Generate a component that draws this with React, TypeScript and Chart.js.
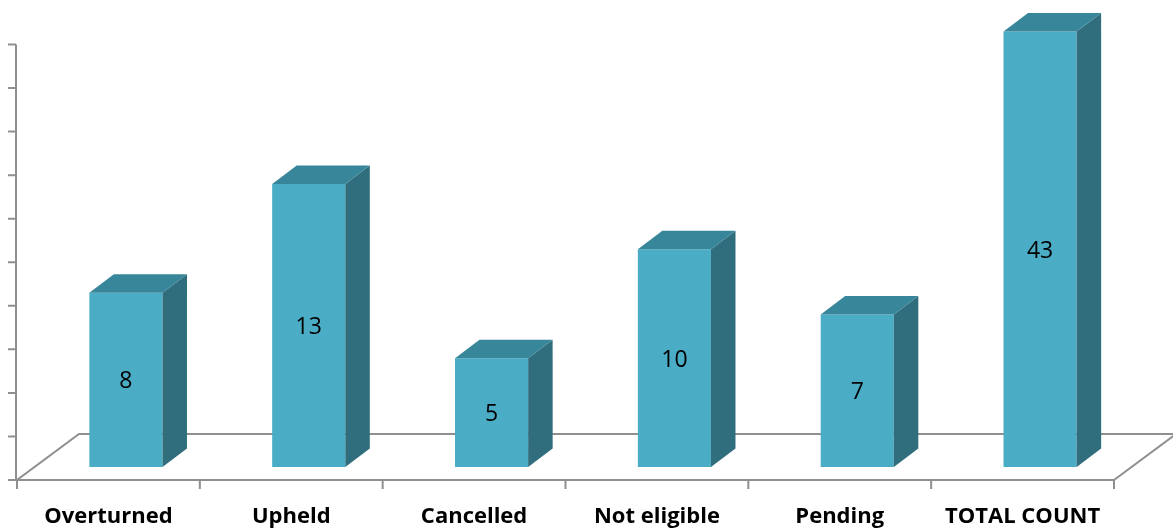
import React, { useEffect, useRef } from "react";
import { Chart, registerables } from "chart.js";

Chart.register(...registerables);

const categories = ["Overturned", "Upheld", "Cancelled", "Not eligible", "Pending", "TOTAL COUNT"];
const counts = [8, 13, 5, 10, 7, 43];
const axisMax = 20;
const axisStep = 2;

const FRONT_COLOR = "#4BACC6";
const TOP_COLOR = "#38869A";
const SIDE_COLOR = "#316E7D";
const LINE_COLOR = "#8f8f8f";

// 3D offsets (relative to the bar plane)
const FRONT = { dx: -17.5, dy: 13 };
const BACK = { dx: 44.5, dy: -33 };
const DEPTH = { dx: 24.5, dy: -18.5 };

const threeD = {
  id: "threeD",
  beforeDatasetsDraw(chart: any) {
    const { ctx, chartArea, scales } = chart;
    const ys = scales.y;
    const xs = scales.x;
    const fl = chartArea.left + FRONT.dx;
    const fr = chartArea.right + FRONT.dx;
    const fy = chartArea.bottom + FRONT.dy;
    const bl = chartArea.left + BACK.dx;
    const br = chartArea.right + BACK.dx;
    const by = chartArea.bottom + BACK.dy;
    ctx.save();
    ctx.strokeStyle = LINE_COLOR;
    ctx.lineWidth = 2;
    ctx.lineJoin = "miter";
    // floor
    ctx.beginPath();
    ctx.moveTo(fr, fy);
    ctx.lineTo(fl, fy);
    ctx.lineTo(bl, by);
    ctx.lineTo(br, by);
    ctx.lineTo(fr, fy);
    ctx.stroke();
    // y axis
    const ax = fl - 1;
    ctx.beginPath();
    ctx.moveTo(ax, fy);
    ctx.lineTo(ax, ys.getPixelForValue(axisMax) + FRONT.dy);
    for (let v = 0; v <= axisMax; v += axisStep) {
      const ty = ys.getPixelForValue(v) + FRONT.dy;
      ctx.moveTo(ax - 8, ty);
      ctx.lineTo(ax, ty);
    }
    // x ticks at category boundaries
    const n = categories.length;
    for (let i = 0; i <= n; i++) {
      const bx = chartArea.left + ((chartArea.right - chartArea.left) * i) / n + FRONT.dx;
      ctx.moveTo(bx, fy);
      ctx.lineTo(bx, fy + 9);
    }
    ctx.stroke();
    // category labels
    ctx.fillStyle = "#000";
    ctx.font = "bold 22px 'Open Sans'";
    ctx.textAlign = "center";
    ctx.textBaseline = "alphabetic";
    categories.forEach((c, i) => {
      const cx = xs.getPixelForValue(i) + FRONT.dx;
      ctx.fillText(c, cx, fy + 43);
    });
    ctx.restore();
  },
  afterDatasetsDraw(chart: any) {
    const { ctx, chartArea } = chart;
    const meta = chart.getDatasetMeta(0);
    ctx.save();
    meta.data.forEach((bar: any, i: number) => {
      const p = bar.getProps(["x", "y", "base", "width"], true);
      const top = Math.max(p.y, chartArea.top);
      const base = p.base;
      const l = p.x - p.width / 2;
      const r = p.x + p.width / 2;
      // side
      ctx.fillStyle = SIDE_COLOR;
      ctx.beginPath();
      ctx.moveTo(r, top);
      ctx.lineTo(r + DEPTH.dx, top + DEPTH.dy);
      ctx.lineTo(r + DEPTH.dx, base + DEPTH.dy);
      ctx.lineTo(r, base);
      ctx.closePath();
      ctx.fill();
      // top
      ctx.fillStyle = TOP_COLOR;
      ctx.beginPath();
      ctx.moveTo(l, top);
      ctx.lineTo(l + DEPTH.dx, top + DEPTH.dy);
      ctx.lineTo(r + DEPTH.dx, top + DEPTH.dy);
      ctx.lineTo(r, top);
      ctx.closePath();
      ctx.fill();
      // value label
      ctx.fillStyle = "#000";
      ctx.font = "23px 'Open Sans'";
      ctx.textAlign = "center";
      ctx.textBaseline = "middle";
      ctx.fillText(String(counts[i]), p.x, (top + base) / 2 + 2);
    });
    ctx.restore();
  },
};

export default function App() {
  const ref = useRef<HTMLCanvasElement | null>(null);
  useEffect(() => {
    if (!ref.current) return;
    const chart = new Chart(ref.current, {
      type: "bar",
      data: {
        labels: categories,
        datasets: [
          {
            data: counts,
            backgroundColor: FRONT_COLOR,
            borderWidth: 0,
            barPercentage: 0.4,
            categoryPercentage: 1,
          },
        ],
      },
      options: {
        animation: false,
        responsive: false,
        maintainAspectRatio: false,
        layout: { padding: { left: 34.5, right: 41.5, top: 31.5, bottom: 64 } },
        plugins: { legend: { display: false }, tooltip: { enabled: false } },
        scales: {
          x: { display: false },
          y: { display: false, min: 0, max: axisMax },
        },
      },
      plugins: [threeD],
    });
    return () => chart.destroy();
  }, []);
  return (
    <div style={{ position: "fixed", left: 0, top: 0, width: 1173, height: 531, background: "#fff" }}>
      <canvas ref={ref} width={1173} height={531} style={{ width: 1173, height: 531 }} />
    </div>
  );
}
